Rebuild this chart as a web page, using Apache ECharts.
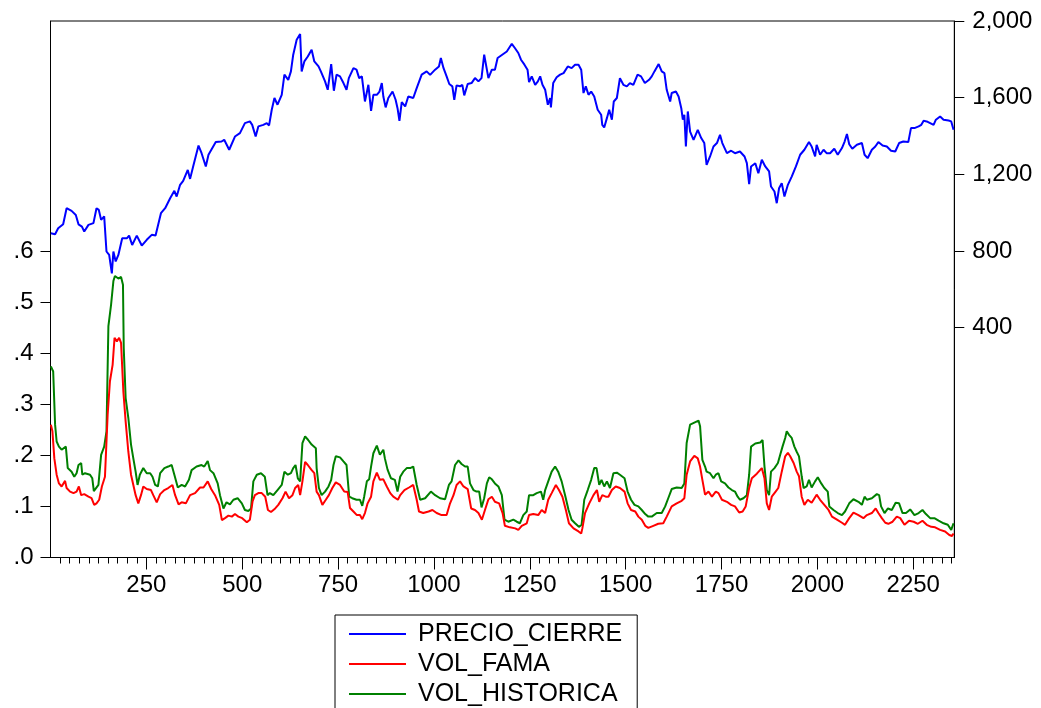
<!DOCTYPE html>
<html>
<head>
<meta charset="utf-8">
<script src="https://cdn.jsdelivr.net/npm/echarts@6/dist/echarts.min.js"></script>
<style>
html,body{margin:0;padding:0;background:#fff;}
#chart{width:1041px;height:708px;}
</style>
</head>
<body>
<div id="chart"></div>
<script>
// ---- data ----
const seriesNames = ['PRECIO_CIERRE', 'VOL_FAMA', 'VOL_HISTORICA'];

const precioX = [1,12,20,33,42,55,66,73,82,88,99,112,120,126,132,140,146,153,160,164,170,177,187,199,205,213,225,238,251,264,274,288,299,312,323,329,338,346,358,364,373,386,394,405,412,431,446,453,466,481,494,507,520,526,535,542,555,564,570,577,584,592,603,610,620,627,633,642,651,655,662,671,681,688,699,705,716,723,732,739,746,755,764,772,778,790,798,805,812,820,829,836,842,851,858,864,868,874,881,892,900,905,910,916,925,933,946,955,968,981,990,1003,1013,1018,1025,1033,1040,1048,1053,1059,1068,1074,1079,1088,1098,1107,1116,1124,1131,1135,1142,1151,1159,1166,1178,1190,1203,1211,1220,1227,1236,1244,1248,1255,1264,1271,1277,1283,1290,1297,1303,1305,1311,1320,1329,1338,1349,1359,1368,1377,1384,1390,1396,1403,1410,1418,1427,1436,1439,1444,1451,1457,1464,1469,1477,1485,1494,1503,1511,1520,1531,1540,1550,1561,1568,1575,1586,1594,1601,1607,1616,1620,1631,1638,1645,1649,1653,1657,1662,1668,1677,1688,1697,1705,1711,1720,1729,1738,1746,1752,1764,1775,1785,1798,1810,1816,1822,1827,1838,1846,1855,1864,1874,1879,1888,1894,1900,1907,1914,1923,1933,1944,1955,1966,1978,1985,1994,1998,2007,2016,2024,2033,2044,2053,2064,2071,2077,2083,2091,2103,2116,2123,2131,2142,2151,2159,2170,2181,2192,2203,2213,2224,2237,2244,2253,2264,2271,2277,2285,2294,2303,2309,2320,2329,2342,2349,2355];
const precioY = [892,887,918,939,1023,1009,988,939,927,901,936,945,1023,1014,962,980,797,779,683,797,745,779,866,866,880,831,880,828,858,884,880,997,1023,1075,1114,1084,1145,1166,1223,1176,1249,1350,1310,1241,1302,1368,1371,1380,1328,1397,1415,1467,1476,1458,1397,1450,1458,1467,1455,1537,1598,1563,1615,1720,1693,1737,1824,1902,1932,1737,1789,1815,1850,1789,1763,1737,1685,1641,1775,1636,1720,1711,1676,1641,1702,1754,1746,1702,1711,1580,1667,1531,1615,1615,1632,1676,1606,1549,1598,1632,1589,1545,1479,1577,1554,1606,1598,1650,1720,1737,1719,1746,1763,1807,1754,1711,1671,1659,1589,1664,1659,1667,1612,1671,1676,1702,1685,1702,1824,1833,1702,1746,1746,1807,1824,1841,1881,1859,1833,1798,1772,1746,1681,1711,1667,1685,1711,1667,1641,1563,1598,1549,1676,1706,1720,1728,1763,1754,1772,1772,1746,1624,1659,1615,1632,1606,1537,1511,1458,1444,1493,1537,1485,1580,1598,1702,1667,1659,1676,1667,1720,1711,1676,1693,1711,1737,1775,1737,1728,1641,1580,1624,1632,1606,1545,1485,1511,1345,1528,1423,1380,1432,1389,1363,1249,1293,1345,1363,1406,1363,1310,1323,1310,1319,1293,1258,1149,1241,1258,1206,1276,1241,1215,1136,1110,1049,1127,1154,1084,1145,1188,1241,1302,1328,1368,1345,1293,1354,1302,1328,1310,1310,1333,1302,1337,1371,1410,1357,1333,1354,1363,1302,1284,1328,1345,1368,1350,1345,1323,1319,1363,1371,1368,1441,1441,1450,1458,1479,1476,1467,1458,1485,1502,1485,1481,1476,1432];

const famaX = [1,5,10,16,22,29,38,42,51,60,68,74,80,88,99,107,114,120,127,134,142,149,155,162,167,173,179,184,190,196,203,210,216,222,229,236,242,251,262,268,277,286,297,307,318,325,334,342,353,364,377,390,399,410,419,429,440,447,455,464,473,481,490,500,512,520,527,533,542,551,560,567,575,586,594,605,613,622,631,638,646,651,657,664,671,680,688,694,700,709,718,726,735,744,755,766,775,781,790,799,807,813,820,827,836,842,851,859,868,877,886,894,906,912,923,935,946,955,961,972,986,996,1007,1020,1033,1042,1051,1059,1068,1077,1088,1097,1107,1116,1125,1133,1142,1151,1159,1170,1179,1185,1198,1212,1220,1229,1242,1248,1259,1272,1281,1290,1298,1307,1318,1326,1335,1344,1352,1364,1377,1384,1387,1394,1405,1416,1425,1431,1439,1448,1455,1464,1474,1485,1497,1505,1514,1525,1533,1542,1551,1559,1572,1585,1598,1607,1620,1633,1646,1653,1659,1668,1679,1688,1694,1700,1707,1716,1725,1735,1742,1751,1764,1775,1785,1796,1805,1813,1822,1829,1842,1855,1862,1868,1874,1881,1891,1898,1907,1916,1923,1929,1938,1946,1952,1959,1966,1975,1985,1998,2007,2018,2029,2038,2051,2064,2072,2083,2094,2107,2120,2129,2142,2152,2159,2168,2177,2185,2196,2207,2216,2227,2239,2251,2262,2274,2285,2297,2307,2320,2333,2344,2351,2355];
const famaY = [0.260,0.247,0.194,0.162,0.145,0.139,0.150,0.136,0.129,0.126,0.129,0.139,0.122,0.124,0.119,0.116,0.103,0.106,0.113,0.139,0.158,0.279,0.345,0.377,0.430,0.423,0.430,0.420,0.325,0.266,0.207,0.162,0.142,0.122,0.106,0.122,0.139,0.134,0.132,0.122,0.108,0.124,0.132,0.136,0.142,0.122,0.104,0.108,0.106,0.122,0.126,0.137,0.137,0.149,0.134,0.122,0.103,0.073,0.077,0.082,0.080,0.085,0.080,0.077,0.069,0.074,0.110,0.122,0.126,0.126,0.119,0.093,0.089,0.096,0.103,0.116,0.129,0.116,0.122,0.136,0.142,0.122,0.149,0.187,0.181,0.172,0.165,0.129,0.122,0.103,0.113,0.122,0.136,0.147,0.142,0.129,0.128,0.097,0.090,0.083,0.083,0.075,0.087,0.106,0.119,0.149,0.166,0.152,0.153,0.139,0.126,0.119,0.113,0.122,0.132,0.137,0.142,0.113,0.090,0.087,0.090,0.093,0.087,0.083,0.083,0.106,0.122,0.142,0.149,0.139,0.134,0.096,0.093,0.087,0.074,0.093,0.114,0.119,0.109,0.106,0.087,0.062,0.059,0.057,0.054,0.062,0.067,0.083,0.085,0.083,0.093,0.087,0.113,0.126,0.142,0.132,0.119,0.093,0.067,0.057,0.051,0.047,0.057,0.087,0.106,0.122,0.132,0.109,0.122,0.119,0.119,0.132,0.139,0.136,0.129,0.106,0.093,0.090,0.080,0.074,0.062,0.058,0.062,0.066,0.067,0.080,0.100,0.106,0.111,0.116,0.162,0.188,0.199,0.194,0.178,0.152,0.123,0.129,0.119,0.129,0.126,0.113,0.109,0.103,0.100,0.088,0.090,0.100,0.136,0.155,0.164,0.175,0.155,0.106,0.093,0.119,0.129,0.136,0.168,0.198,0.205,0.198,0.185,0.168,0.159,0.119,0.103,0.113,0.107,0.123,0.113,0.103,0.093,0.080,0.074,0.068,0.064,0.077,0.088,0.083,0.077,0.083,0.087,0.096,0.087,0.077,0.068,0.066,0.070,0.080,0.077,0.064,0.072,0.070,0.066,0.072,0.064,0.060,0.059,0.054,0.051,0.044,0.042,0.047];

const histX = [1,7,12,16,22,29,40,45,55,62,68,73,80,83,90,103,109,113,118,125,132,140,146,151,158,164,168,177,184,189,191,196,203,210,216,222,227,233,242,251,260,266,273,280,286,297,307,316,323,332,342,351,361,368,381,394,401,410,416,425,436,442,451,459,468,477,488,499,507,516,523,529,538,549,559,566,572,581,592,603,610,619,627,633,639,645,651,657,664,672,681,692,694,700,707,716,725,732,738,744,755,764,772,776,779,787,798,807,813,818,825,831,836,842,851,859,868,872,879,888,898,905,912,920,929,938,946,955,964,977,992,1003,1016,1029,1033,1039,1046,1055,1064,1072,1081,1088,1094,1103,1111,1118,1124,1131,1138,1144,1151,1159,1168,1177,1184,1194,1207,1216,1224,1233,1242,1248,1259,1268,1279,1285,1290,1298,1307,1316,1324,1333,1342,1351,1359,1368,1378,1385,1392,1401,1410,1418,1424,1431,1437,1444,1451,1459,1468,1477,1485,1497,1505,1514,1523,1533,1542,1551,1559,1568,1581,1594,1603,1611,1620,1633,1646,1653,1659,1668,1679,1690,1694,1700,1707,1711,1720,1729,1735,1742,1749,1759,1768,1777,1785,1792,1798,1807,1816,1822,1827,1838,1851,1857,1862,1868,1874,1879,1888,1897,1903,1909,1916,1920,1926,1933,1940,1946,1952,1959,1964,1972,1978,1985,1994,2001,2010,2018,2027,2031,2042,2053,2064,2072,2083,2094,2107,2116,2123,2129,2142,2155,2161,2166,2175,2184,2194,2204,2213,2222,2231,2242,2253,2264,2274,2283,2294,2305,2316,2329,2340,2349,2355];
const histY = [0.374,0.364,0.260,0.227,0.217,0.211,0.217,0.175,0.168,0.158,0.165,0.181,0.185,0.162,0.165,0.162,0.155,0.130,0.129,0.142,0.201,0.217,0.247,0.453,0.495,0.541,0.551,0.546,0.549,0.534,0.410,0.312,0.273,0.221,0.194,0.168,0.142,0.162,0.175,0.165,0.165,0.158,0.142,0.139,0.165,0.175,0.178,0.181,0.162,0.137,0.142,0.139,0.152,0.171,0.178,0.181,0.178,0.189,0.171,0.165,0.145,0.122,0.096,0.108,0.104,0.113,0.116,0.106,0.093,0.091,0.096,0.149,0.162,0.165,0.158,0.122,0.126,0.122,0.132,0.142,0.168,0.162,0.165,0.175,0.181,0.155,0.149,0.224,0.237,0.230,0.221,0.214,0.175,0.136,0.122,0.129,0.139,0.152,0.181,0.198,0.196,0.188,0.181,0.181,0.119,0.116,0.113,0.113,0.101,0.119,0.149,0.153,0.178,0.204,0.219,0.201,0.211,0.194,0.172,0.155,0.152,0.129,0.158,0.168,0.175,0.175,0.178,0.142,0.113,0.116,0.129,0.122,0.116,0.114,0.113,0.142,0.149,0.181,0.190,0.183,0.178,0.178,0.145,0.132,0.129,0.129,0.098,0.116,0.145,0.157,0.153,0.145,0.139,0.122,0.074,0.070,0.074,0.070,0.067,0.083,0.090,0.122,0.122,0.126,0.129,0.113,0.132,0.149,0.168,0.178,0.168,0.149,0.122,0.093,0.074,0.067,0.060,0.064,0.113,0.132,0.152,0.175,0.175,0.142,0.152,0.139,0.149,0.136,0.165,0.166,0.162,0.155,0.129,0.113,0.103,0.100,0.093,0.085,0.080,0.080,0.087,0.087,0.100,0.116,0.134,0.137,0.136,0.145,0.224,0.260,0.264,0.268,0.257,0.191,0.178,0.168,0.165,0.155,0.162,0.165,0.149,0.145,0.137,0.132,0.129,0.119,0.113,0.116,0.122,0.162,0.217,0.223,0.225,0.230,0.178,0.132,0.122,0.168,0.175,0.185,0.201,0.217,0.234,0.247,0.240,0.234,0.217,0.207,0.198,0.159,0.136,0.139,0.152,0.137,0.149,0.157,0.145,0.136,0.129,0.100,0.093,0.087,0.083,0.090,0.106,0.114,0.109,0.103,0.119,0.113,0.116,0.124,0.122,0.100,0.087,0.096,0.093,0.107,0.106,0.087,0.087,0.094,0.083,0.087,0.093,0.085,0.077,0.077,0.072,0.067,0.064,0.054,0.067];

const xTicks = [250,500,750,1000,1250,1500,1750,2000,2250];
const leftTicks = [0,0.1,0.2,0.3,0.4,0.5,0.6];
const rightTicks = [400,800,1200,1600,2000];

// ---- chart ----
function zip(xs, ys){ return xs.map((x,i)=>[x, ys[i]]); }
const FONT = '"Liberation Sans", Arial, Helvetica, sans-serif';
const chart = echarts.init(document.getElementById('chart'), null, {renderer:'canvas'});

const axisLineStyle = {color:'#000', width:1};
chart.setOption({
  animation:false,
  backgroundColor:'#fff',
  textStyle:{fontFamily:FONT},
  grid:{left:50.5, right:86.7, top:21, bottom:150.5, show:true, borderColor:'#000', borderWidth:1, outerBoundsMode:'none'},
  legend:{
    orient:'vertical', left:335, top:615, height:300,
    data:seriesNames,
    icon:'rect', itemWidth:57, itemHeight:2, itemGap:0,
    backgroundColor:'#fff', borderColor:'#000', borderWidth:1,
    padding:[4,15,8,14],
    textStyle:{fontFamily:FONT, fontSize:25, color:'#000', lineHeight:30, padding:[0,0,0,7]}
  },
  xAxis:{
    type:'value', min:0, max:2357, interval:250,
    axisLine:{show:true, onZero:false, lineStyle:axisLineStyle},
    axisTick:{show:true, inside:false, length:12, lineStyle:axisLineStyle, customValues:xTicks},
    minorTick:{show:true, splitNumber:10, length:6, lineStyle:axisLineStyle},
    splitLine:{show:false}, minorSplitLine:{show:false},
    axisLabel:{fontFamily:FONT, fontSize:24, color:'#000', margin:16, customValues:xTicks,
      formatter:function(v){ return String(v); }}
  },
  yAxis:[
    {
      type:'value', position:'left', min:0, max:1.05,
      axisLine:{show:true, onZero:false, lineStyle:axisLineStyle},
      axisTick:{show:true, length:10, lineStyle:axisLineStyle, customValues:leftTicks},
      splitLine:{show:false},
      axisLabel:{fontFamily:FONT, fontSize:24, color:'#000', margin:17, customValues:leftTicks,
        formatter:function(v){ return v.toFixed(1).replace(/^0/, ''); }}
    },
    {
      type:'value', position:'right', min:-800, max:2000,
      axisLine:{show:true, onZero:false, lineStyle:axisLineStyle},
      axisTick:{show:true, length:10, lineStyle:axisLineStyle, customValues:rightTicks},
      splitLine:{show:false},
      axisLabel:{fontFamily:FONT, fontSize:24, color:'#000', margin:18, customValues:rightTicks,
        formatter:function(v){ return v.toLocaleString('en-US'); }}
    }
  ],
  series:[
    {name:seriesNames[0], type:'line', yAxisIndex:1, data:zip(precioX, precioY), showSymbol:false, symbol:'none',
      lineStyle:{color:'#0000ff', width:2}, itemStyle:{color:'#0000ff'}, z:3},
    {name:seriesNames[1], type:'line', yAxisIndex:0, data:zip(famaX, famaY), showSymbol:false, symbol:'none',
      lineStyle:{color:'#ff0000', width:2}, itemStyle:{color:'#ff0000'}, z:2},
    {name:seriesNames[2], type:'line', yAxisIndex:0, data:zip(histX, histY), showSymbol:false, symbol:'none',
      lineStyle:{color:'#008000', width:2}, itemStyle:{color:'#008000'}, z:1}
  ]
});
</script>
</body>
</html>
